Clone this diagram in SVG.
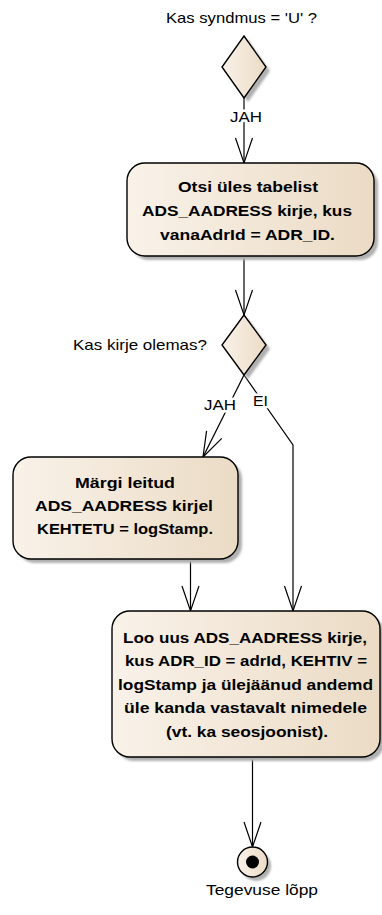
<svg xmlns="http://www.w3.org/2000/svg" width="382" height="915" viewBox="0 0 382 915">
<defs>
<linearGradient id="fillg" x1="0" y1="0" x2="1" y2="0">
<stop offset="0" stop-color="#f9f2e9"/>
<stop offset="1" stop-color="#ebdbc5"/>
</linearGradient>
<filter id="blur" x="-10%" y="-10%" width="130%" height="130%"><feGaussianBlur stdDeviation="1"/></filter>
<marker id="arr" markerUnits="userSpaceOnUse" markerWidth="30" markerHeight="22" viewBox="-27 -11 30 22" refX="0" refY="0" orient="auto">
<path d="M-25,-8.5 L0,0 L-25,8.5" fill="none" stroke="#000" stroke-width="1.2"/>
</marker>
</defs>
<style>
.shape{fill:url(#fillg);stroke:#000;stroke-width:1.4}
.shadow{fill:#b0b0b0;filter:url(#blur)}
.bt{font-family:"Liberation Sans",Arial,sans-serif;font-size:15px;font-weight:bold;fill:#000}
.lt{font-family:"Liberation Sans",Arial,sans-serif;font-size:15px;fill:#000}
.lbl{paint-order:stroke;stroke:#fff;stroke-width:5px;stroke-linejoin:round}
.con{fill:none;stroke:#000;stroke-width:1.2}
</style>
<rect width="382" height="915" fill="#fff"/>

<g id="connectors">
<path class="con" d="M244,98 L244,163" marker-end="url(#arr)"/>
<path class="con" d="M244,256 L244,315" marker-end="url(#arr)"/>
<path class="con" d="M244,375 L203,457" marker-end="url(#arr)"/>
<path class="con" d="M244,375 L293,445 L293,611" marker-end="url(#arr)"/>
<path class="con" d="M190.5,559 L190.5,611" marker-end="url(#arr)"/>
<path class="con" d="M252.5,757 L252.5,847" marker-end="url(#arr)"/>
<text class="lt lbl" x="230" y="122" textLength="32" lengthAdjust="spacingAndGlyphs">JAH</text>
<text class="lt lbl" x="204" y="410" textLength="32" lengthAdjust="spacingAndGlyphs">JAH</text>
<text class="lt lbl" x="253" y="406" textLength="15" lengthAdjust="spacingAndGlyphs">EI</text>
</g>

<g id="decision1">
<polygon class="shadow" points="248,40 270,71 248,102 226,71"/>
<polygon class="shape" points="244,36 266,67 244,98 222,67"/>
<text class="lt" x="166" y="23" textLength="151" lengthAdjust="spacingAndGlyphs">Kas syndmus = 'U' ?</text>
</g>

<g id="action1">
<rect class="shadow" x="131" y="167" width="247" height="93" rx="18"/>
<rect class="shape" x="127" y="163" width="247" height="93" rx="18"/>
<text class="bt" x="178" y="192" textLength="140" lengthAdjust="spacingAndGlyphs">Otsi üles tabelist</text>
<text class="bt" x="142" y="216" textLength="210" lengthAdjust="spacingAndGlyphs">ADS_AADRESS kirje, kus</text>
<text class="bt" x="160" y="240" textLength="175" lengthAdjust="spacingAndGlyphs">vanaAdrId = ADR_ID.</text>
</g>

<g id="decision2">
<polygon class="shadow" points="248,319 270,349 248,379 226,349"/>
<polygon class="shape" points="244,315 266,345 244,375 222,345"/>
<text class="lt" x="73" y="350" textLength="134" lengthAdjust="spacingAndGlyphs">Kas kirje olemas?</text>
</g>

<g id="action2">
<rect class="shadow" x="17" y="461" width="225" height="102" rx="18"/>
<rect class="shape" x="13" y="457" width="225" height="102" rx="18"/>
<text class="bt" x="75" y="488" textLength="100" lengthAdjust="spacingAndGlyphs">Märgi leitud</text>
<text class="bt" x="35" y="511" textLength="178" lengthAdjust="spacingAndGlyphs">ADS_AADRESS kirjel</text>
<text class="bt" x="37" y="534" textLength="176" lengthAdjust="spacingAndGlyphs">KEHTETU = logStamp.</text>
</g>

<g id="action3">
<rect class="shadow" x="116" y="615" width="268" height="146" rx="18"/>
<rect class="shape" x="112" y="611" width="268" height="146" rx="18"/>
<text class="bt" x="123" y="643" textLength="244" lengthAdjust="spacingAndGlyphs">Loo uus ADS_AADRESS kirje,</text>
<text class="bt" x="125" y="666" textLength="242" lengthAdjust="spacingAndGlyphs">kus ADR_ID = adrId, KEHTIV =</text>
<text class="bt" x="118" y="690" textLength="255" lengthAdjust="spacingAndGlyphs">logStamp ja ülejäänud andemd</text>
<text class="bt" x="124" y="713" textLength="243" lengthAdjust="spacingAndGlyphs">üle kanda vastavalt nimedele</text>
<text class="bt" x="166" y="737" textLength="162" lengthAdjust="spacingAndGlyphs">(vt. ka seosjoonist).</text>
</g>

<g id="final">
<circle class="shadow" cx="256" cy="866" r="15"/>
<circle class="shape" cx="252.5" cy="862" r="15"/>
<circle cx="252.5" cy="862" r="6.5" fill="#000"/>
<text class="lt" x="206" y="895" textLength="112" lengthAdjust="spacingAndGlyphs">Tegevuse lõpp</text>
</g>
</svg>
